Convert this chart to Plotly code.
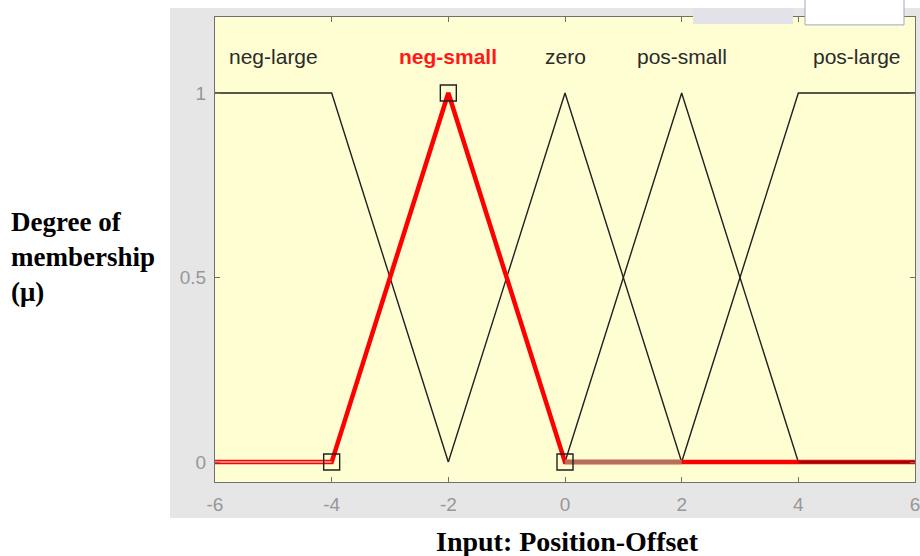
import plotly.graph_objects as go

# Membership functions of the input "Position-Offset"
mf_names = ["neg-large", "neg-small", "zero", "pos-small", "pos-large"]
label_x = [-5, -2, 0, 2, 5]

neg_large_x = [-6, -4, -2]
neg_large_y = [1, 1, 0]
neg_small_x = [-6, -4, -2, 0, 6]
neg_small_y = [0, 0, 1, 0, 0]
zero_x = [-2, 0, 2]
zero_y = [0, 1, 0]
pos_small_x = [0, 2, 4]
pos_small_y = [0, 1, 0]
pos_large_x = [2, 4, 6]
pos_large_y = [0, 1, 1]

# Vertices of the selected function (neg-small)
vertex_x = [-4, -2, 0]
vertex_y = [0, 1, 0]

# Baseline pieces of the selected function, as rendered on screen
base_left_x = [-6, -4]
base_mid_x = [0, 2]
base_right_x = [4, 6]

x_ticks = [-6, -4, -2, 0, 2, 4, 6]
x_tick_text = ["-6", "-4", "-2", "0", "2", "4", "6"]
y_ticks = [0, 0.5, 1]
y_tick_text = ["0", "0.5", "1"]

fig = go.Figure()

black = "#202020"
for xs, ys in [(neg_large_x, neg_large_y), (zero_x, zero_y),
               (pos_small_x, pos_small_y), (pos_large_x, pos_large_y)]:
    fig.add_trace(go.Scatter(x=xs, y=ys, mode="lines",
                             line=dict(color=black, width=1.4),
                             hoverinfo="skip", showlegend=False))

fig.add_trace(go.Scatter(x=neg_small_x, y=neg_small_y, mode="lines",
                         line=dict(color="#ff0000", width=4.5),
                         hoverinfo="skip", showlegend=False))

fig.add_trace(go.Scatter(x=base_left_x, y=[0, 0], mode="lines",
                         line=dict(color="#f9b2a4", width=1.6),
                         hoverinfo="skip", showlegend=False))
fig.add_trace(go.Scatter(x=base_mid_x, y=[0, 0], mode="lines",
                         line=dict(color="#b5705a", width=4.5),
                         hoverinfo="skip", showlegend=False))
fig.add_trace(go.Scatter(x=base_right_x, y=[0, 0], mode="lines",
                         line=dict(color="#7a0e0e", width=2.2),
                         hoverinfo="skip", showlegend=False))

fig.add_trace(go.Scatter(x=vertex_x, y=vertex_y, mode="markers",
                         marker=dict(symbol="square-open", size=16,
                                     color=black, line=dict(width=1.4)),
                         hoverinfo="skip", showlegend=False))

# Function names above the curves
for name, lx in zip(mf_names, label_x):
    selected = name == "neg-small"
    fig.add_annotation(
        x=lx, y=1.098, xref="x", yref="y", text=name, showarrow=False,
        font=dict(family="Liberation Sans, Arial", size=21,
                  color="#ff1a1a" if selected else "#2b2b2b",
                  weight="bold" if selected else "normal"),
    )

fig.add_annotation(x=-0.2943, y=0.484, xref="paper", yref="paper",
                   text="Degree of<br>membership<br>(μ)", showarrow=False,
                   xanchor="left", yanchor="middle", align="left",
                   font=dict(family="Liberation Serif, Times New Roman",
                             size=27, color="#000000", weight="bold"))
fig.add_annotation(x=0.503, y=-0.129, xref="paper", yref="paper",
                   text="Input: Position-Offset", showarrow=False,
                   xanchor="center", yanchor="middle",
                   font=dict(family="Liberation Serif, Times New Roman",
                             size=28, color="#000000", weight="bold"))

shapes = [
    # figure panel behind the axes
    dict(type="rect", xref="paper", yref="paper", x0=-0.0643, x1=1.0071,
         y0=-0.0774, y1=1.0194, fillcolor="#e6e6e6", line=dict(width=0),
         layer="below"),
    # axes background
    dict(type="rect", xref="paper", yref="paper", x0=0, x1=1, y0=0, y1=1,
         fillcolor="#fffdd2", line=dict(width=0), layer="below"),
    # toolbar pieces along the top edge
    dict(type="rect", xref="paper", yref="paper", x0=0.6829, x1=0.8257,
         y0=0.985, y1=1.0194, fillcolor="#e2e2e8", line=dict(width=0),
         layer="above"),
    dict(type="rect", xref="paper", yref="paper", x0=0.8429, x1=0.9843,
         y0=0.983, y1=1.04, fillcolor="#ffffff",
         line=dict(color="#9fa8bd", width=1), layer="above"),
]

tick_font = dict(family="Liberation Sans, Arial", size=19, color="#979797")
fig.update_layout(
    width=920, height=556,
    margin=dict(l=215, r=5, t=17, b=74, autoexpand=False),
    paper_bgcolor="#ffffff",
    plot_bgcolor="rgba(0,0,0,0)",
    shapes=shapes,
    xaxis=dict(range=[-6, 6], tickvals=x_ticks, ticktext=x_tick_text,
               ticks="inside", ticklen=5,
               tickcolor="#707070", showgrid=False, zeroline=False,
               showline=True, linecolor="#707070", linewidth=1, mirror="ticks",
               tickfont=tick_font, ticklabelstandoff=5, automargin=False,
               ticklabeloverflow="allow"),
    yaxis=dict(range=[-0.054, 1.206], tickvals=y_ticks, ticktext=y_tick_text,
               ticks="inside", ticklen=5, tickcolor="#707070",
               showgrid=False, zeroline=False, showline=True,
               linecolor="#707070", linewidth=1, mirror="ticks",
               tickfont=tick_font, ticklabelstandoff=4, automargin=False,
               ticklabeloverflow="allow"),
)

fig.write_html("out.html")
